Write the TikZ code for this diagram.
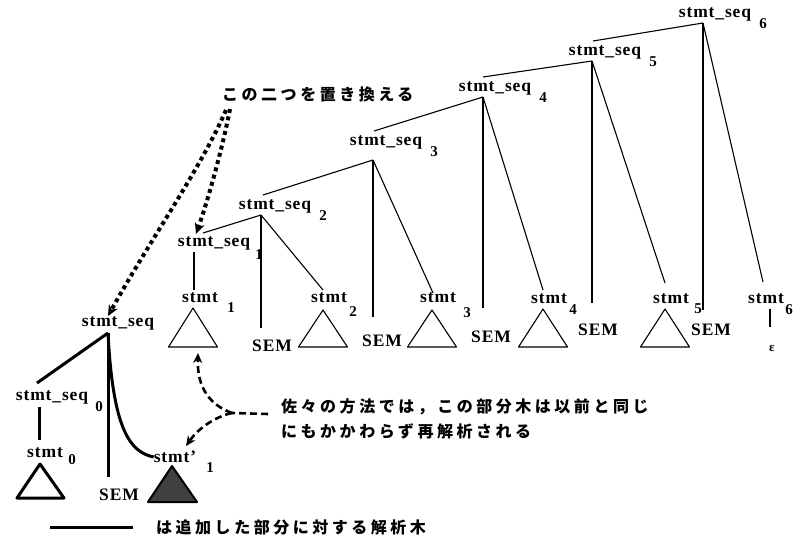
\documentclass[tikz,border=0pt]{standalone}
\usepackage{fontspec}
\setmainfont{Liberation Serif}
\newfontfamily\jpfont[LetterSpace=22]{Noto Sans CJK JP}
\usetikzlibrary{positioning, arrows.meta, calc}

\begin{document}
\begin{tikzpicture}[x=1pt, y=-1pt,
    lab/.style={inner sep=0pt, font=\fontsize{17.5}{17.5}\selectfont\bfseries\addfontfeature{LetterSpace=5}},
    sub/.style={inner sep=0pt, font=\fontsize{15}{15}\selectfont\bfseries},
    jp/.style={inner sep=0pt, anchor=west, font=\fontsize{16}{16}\selectfont\jpfont\bfseries},
    edge/.style={line width=1.1pt},
    newedge/.style={line width=3pt},
    dotarrow/.style={line width=4pt, dash pattern=on 4pt off 3.5pt, -{Stealth[length=11pt,width=10pt]}},
    dashline/.style={line width=2.6pt, dash pattern=on 7pt off 4pt},
    dasharrow/.style={dashline, -{Stealth[length=10pt,width=9pt]}}]
    \useasboundingbox (0,0) rectangle (795,535);

    % the old parse tree
    \foreach \k/\lx/\ly/\ax/\ay in {6/715/14/703/23, 5/605/52/592/61, 4/495/88/483/97, 3/386/142/373/160, 2/275/206/261/215}
    {
        \node[lab] (seq\k) at (\lx,\ly) {stmt\_seq};
        \node[sub] at (\lx+48,\ly+10) {\k};
        \coordinate (top\k) at (\lx-12,\ly-11);
        \coordinate (apex\k) at (\ax,\ay);
    }
    \node[lab] (seq1) at (214,243) {stmt\_seq};
    \node[sub] at (259,255) {1};
    \coordinate (top1) at (203,233);
    \foreach \k/\j in {6/5,5/4,4/3,3/2,2/1}
        \draw[edge] (apex\k) -- (top\j);

    \foreach \k/\sx/\sy/\ex/\ey in {6/711/330/703/310, 5/598/330/592/303, 4/491/337/483/308, 3/382/341/373/317, 2/272/346/261/328}
    {
        \node[lab] (sem\k) at (\sx,\sy) {SEM};
        \coordinate (bot\k) at (\ex,\ey);
        \draw[edge] (apex\k) -- (bot\k);
    }

    \foreach \k/\lx/\ly/\tx/\ty/\sx/\sy in {1/200/298/193/308/231/308, 2/329/298/323/310/353/312, 3/438/298/432/310/467/313, 4/549/299/543/309/573/310, 5/671/299/665/309/698/309, 6/766/299/0/0/789/310}
    {
        \node[lab] (stmt\k) at (\lx,\ly) {stmt};
        \node[sub] at (\sx,\sy) {\k};
        \ifnum\k<6
            \draw[edge, line join=round] (\tx,\ty) -- (\tx+24.5,347) -- (\tx-24.5,347) -- cycle;
        \fi
    }
    \foreach \k/\px/\py in {2/323/290, 3/433/293, 4/543/290, 5/665/283, 6/763/282}
    {
        \coordinate (ptop\k) at (\px,\py);
        \draw[edge] (apex\k) -- (ptop\k);
    }
    \coordinate (s1a) at (194,252);
    \coordinate (s1b) at (194,290);
    \draw[edge] (s1a) -- (s1b);
    \node[inner sep=0pt, font=\fontsize{13}{13}\selectfont\bfseries] (eps) at (772,348) {ε};
    \coordinate (e1) at (770,309);
    \coordinate (e2) at (770,327);
    \draw[edge] (e1) -- (e2);

    % the added part
    \node[lab] (seq) at (118,323) {stmt\_seq};
    \coordinate (apex) at (108,333);
    \node[lab] (seq0) at (52,397) {stmt\_seq};
    \node[sub] at (99,407) {0};
    \coordinate (top0) at (37,383);
    \draw[newedge] (apex) -- (top0);
    \coordinate (b0a) at (39,407);
    \coordinate (b0b) at (39,440);
    \draw[newedge] (b0a) -- (b0b);
    \node[lab] (stmt0) at (45,453) {stmt};
    \node[sub] at (72,460) {0};
    \draw[newedge, line join=round] (40,464) -- (64,498) -- (17,498) -- cycle;
    \node[lab] (semnew) at (119,495) {SEM};
    \coordinate (semtop) at (108,477);
    \draw[newedge] (apex) -- (semtop);
    \node[lab] (stmtnew) at (175,457) {stmt'};
    \node[sub] at (210,468) {1};
    \draw[newedge] (apex) .. controls (113,430) and (130,452) .. (stmtnew.west);
    \draw[line width=2pt, line join=round, fill=black!75] (172,466) -- (197,502) -- (148,502) -- cycle;

    % notes
    \node[jp] (swap) at (222,94) {この二つを置き換える};
    \coordinate (d1) at (226,110);
    \coordinate (d2) at (230,109);
    \draw[dotarrow] (d1) .. controls (200,170) and (150,240) .. (seq.north -| apex);
    \draw[dotarrow] (d2) .. controls (222,150) and (208,200) .. (196,234);

    \node[jp] (note1) at (281,407) {佐々の方法では，この部分木は以前と同じ};
    \node[jp] (note2) at (281,431) {にもかかわらず再解析される};
    \coordinate (jn) at (232,413);
    \coordinate (dstart) at (268,414);
    \draw[dashline] (dstart) -- (jn);
    \draw[dasharrow] (jn) .. controls (210,405) and (197,388) .. (198,353);
    \draw[dasharrow] (jn) .. controls (218,416) and (200,426) .. (186,446);

    \coordinate (legA) at (50,527);
    \coordinate (legB) at (133,527);
    \draw[newedge] (legA) -- (legB);
    \node[jp] (legend) at (156,527) {は追加した部分に対する解析木};
\end{tikzpicture}
\end{document}
